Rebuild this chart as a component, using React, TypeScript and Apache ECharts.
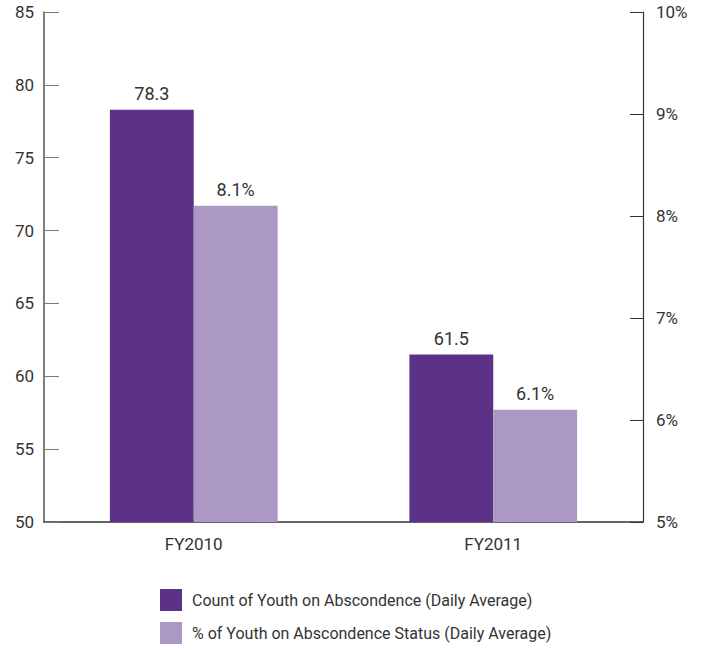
import React, { useEffect, useRef } from "react";
import * as echarts from "echarts";

const categories = ["FY2010", "FY2011"];
const countValues = [78.3, 61.5];
const pctValues = [8.1, 6.1];
const seriesNames = [
  "Count of Youth on Abscondence (Daily Average)",
  "% of Youth on Abscondence Status (Daily Average)",
];

const FONT = "'Liberation Sans Narrow', 'Roboto', sans-serif";

export default function App() {
  const ref = useRef<HTMLDivElement>(null);
  useEffect(() => {
    if (!ref.current) return;
    const chart = echarts.init(ref.current, undefined, { renderer: "svg" });
    chart.setOption({
      animation: false,
      textStyle: { fontFamily: FONT },
      grid: { left: 44, right: 62, top: 12, bottom: 128, containLabel: false },
      legend: {
        orient: "vertical",
        left: 160,
        top: 589,
        height: 60,
        padding: 0,
        itemWidth: 22,
        itemHeight: 22,
        itemGap: 11,
        icon: "rect",
        textStyle: { fontFamily: FONT, fontSize: 16, color: "#333", padding: [0, 0, 0, 5] },
        data: seriesNames,
      },
      xAxis: {
        type: "category",
        data: categories,
        axisLine: { lineStyle: { color: "#333", width: 1.5 } },
        axisTick: { inside: true, length: 13, lineStyle: { color: "#333" } },
        axisLabel: { fontFamily: FONT, fontSize: 17, color: "#333", margin: 13 },
      },
      yAxis: [
        {
          type: "value",
          min: 50,
          max: 85,
          interval: 5,
          splitLine: { show: false },
          axisLine: { show: true, lineStyle: { color: "#555", width: 1.5 } },
          axisTick: { show: true, inside: true, length: 15, lineStyle: { color: "#777" } },
          axisLabel: { fontFamily: FONT, fontSize: 17, color: "#333", margin: 10 },
        },
        {
          type: "value",
          min: 5,
          max: 10,
          interval: 1,
          splitLine: { show: false },
          axisLine: { show: true, lineStyle: { color: "#333", width: 1.2 } },
          axisTick: { show: true, inside: true, length: 13, lineStyle: { color: "#333" } },
          axisLabel: { fontFamily: FONT, fontSize: 17, color: "#333", margin: 13, formatter: "{value}%" },
        },
      ],
      series: [
        {
          name: seriesNames[0],
          type: "bar",
          data: countValues,
          yAxisIndex: 0,
          barWidth: "28%",
          barGap: "0%",
          itemStyle: { color: "#5b3285" },
          label: { show: true, position: "top", distance: 7, fontFamily: FONT, fontSize: 18, color: "#333" },
        },
        {
          name: seriesNames[1],
          type: "bar",
          data: pctValues,
          yAxisIndex: 1,
          barWidth: "28%",
          barGap: "0%",
          itemStyle: { color: "#ab99c4" },
          label: {
            show: true,
            position: "top",
            distance: 7,
            fontFamily: FONT,
            fontSize: 18,
            color: "#333",
            formatter: "{c}%",
          },
        },
      ],
    });
    return () => chart.dispose();
  }, []);
  return <div ref={ref} style={{ width: 705, height: 650, position: "absolute", left: 0, top: 0 }} />;
}
